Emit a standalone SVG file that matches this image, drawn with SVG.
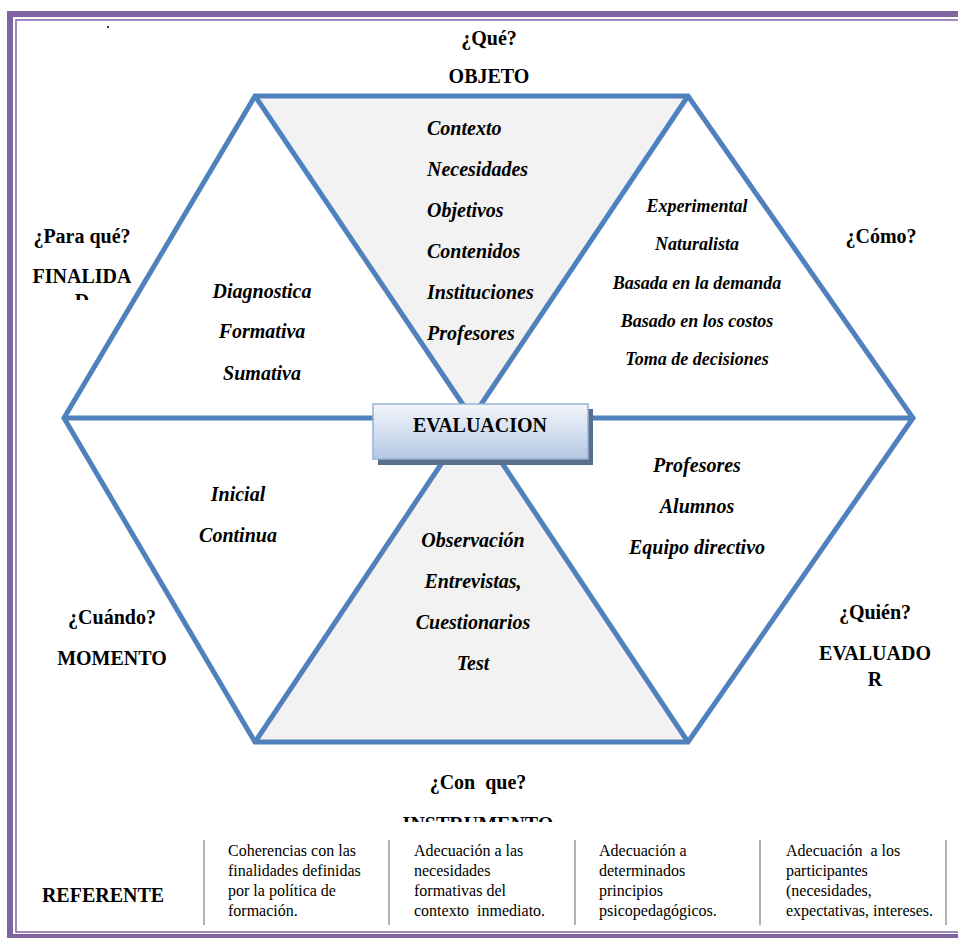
<svg xmlns="http://www.w3.org/2000/svg" width="958" height="938" viewBox="0 0 958 938">
  <defs>
    <style>
      .edge { fill: none; stroke: #4f81bd; stroke-width: 5; stroke-linejoin: miter; }
      .tri { fill: #f2f2f2; }
      .lbl { font-family: "Liberation Serif", "Times New Roman", serif; font-weight: bold; font-size: 20px; fill: #000; text-anchor: middle; }
      .item { font-family: "Liberation Serif", "Times New Roman", serif; font-weight: bold; font-style: italic; font-size: 20px; fill: #000; }
      .items { font-family: "Liberation Serif", "Times New Roman", serif; font-weight: bold; font-style: italic; font-size: 18px; fill: #000; text-anchor: middle; }
      .ref { font-family: "Liberation Serif", "Times New Roman", serif; font-size: 16px; fill: #000; }
      .sep { stroke: #999; stroke-width: 1.5; }
      .frame-thick { fill: #8064a2; }
      .frame-thin { fill: none; stroke: #8064a2; stroke-width: 1.5; }
    </style>
    <linearGradient id="boxGrad" x1="0" y1="0" x2="0" y2="1">
      <stop offset="0" stop-color="#f4f6fb"/>
      <stop offset="1" stop-color="#b4c8e4"/>
    </linearGradient>
    <clipPath id="clipFinal"><rect x="0" y="250" width="200" height="50"/></clipPath>
    <clipPath id="clipInstr"><rect x="350" y="800" width="260" height="22"/></clipPath>
  </defs>

  <rect width="958" height="938" fill="#fff"/>

  <!-- page frame -->
  <g id="frame">
    <rect class="frame-thick" x="7" y="11" width="951" height="6"/>
    <rect class="frame-thick" x="7" y="11" width="6" height="927"/>
    <rect class="frame-thick" x="7" y="934" width="951" height="4"/>
    <path class="frame-thin" d="M958 20 H16 V932 H958"/>
  </g>

  <!-- shaded triangles -->
  <g id="fills">
    <polygon class="tri" points="255,96 688,96 472,418"/>
    <polygon class="tri" points="472,418 688,742 255,742"/>
  </g>

  <!-- hexagon edges and spokes -->
  <g id="connectors">
    <polygon class="edge" points="255,96 688,96 913,418 688,742 255,742 64,418"/>
    <line class="edge" x1="255" y1="96" x2="472" y2="418"/>
    <line class="edge" x1="688" y1="96" x2="472" y2="418"/>
    <line class="edge" x1="472" y1="418" x2="255" y2="742"/>
    <line class="edge" x1="472" y1="418" x2="688" y2="742"/>
    <line class="edge" x1="64" y1="418" x2="913" y2="418"/>
  </g>

  <!-- centre box -->
  <g id="evaluacion">
    <rect x="378" y="409" width="215" height="56" fill="#5a6f8c"/>
    <rect x="373" y="404" width="215" height="55" fill="url(#boxGrad)" stroke="#95b3d7" stroke-width="1.5"/>
    <text class="lbl" x="480" y="432">EVALUACION</text>
  </g>

  <g id="dot"><circle cx="108" cy="27" r="1" fill="#000"/></g>

  <!-- top: objeto -->
  <g id="objeto">
    <text class="lbl" x="489" y="45">¿Qué?</text>
    <text class="lbl" x="489" y="83">OBJETO</text>
    <text class="item" x="427" y="135">Contexto</text>
    <text class="item" x="427" y="176">Necesidades</text>
    <text class="item" x="427" y="217">Objetivos</text>
    <text class="item" x="427" y="258">Contenidos</text>
    <text class="item" x="427" y="299">Instituciones</text>
    <text class="item" x="427" y="340">Profesores</text>
  </g>

  <!-- upper left: finalidad -->
  <g id="finalidad">
    <text class="lbl" x="82" y="243">¿Para qué?</text>
    <text class="lbl" x="82" y="283">FINALIDA</text>
    <text class="lbl" x="82" y="308" clip-path="url(#clipFinal)">D</text>
    <text class="item" x="262" y="298" text-anchor="middle">Diagnostica</text>
    <text class="item" x="262" y="338" text-anchor="middle">Formativa</text>
    <text class="item" x="262" y="380" text-anchor="middle">Sumativa</text>
  </g>

  <!-- upper right: como -->
  <g id="como">
    <text class="lbl" x="881" y="243">¿Cómo?</text>
    <text class="items" x="697" y="212">Experimental</text>
    <text class="items" x="697" y="250">Naturalista</text>
    <text class="items" x="697" y="289">Basada en la demanda</text>
    <text class="items" x="697" y="327">Basado en los costos</text>
    <text class="items" x="697" y="365">Toma de decisiones</text>
  </g>

  <!-- lower left: momento -->
  <g id="momento">
    <text class="lbl" x="112" y="624">¿Cuándo?</text>
    <text class="lbl" x="112" y="665">MOMENTO</text>
    <text class="item" x="238" y="501" text-anchor="middle">Inicial</text>
    <text class="item" x="238" y="542" text-anchor="middle">Continua</text>
  </g>

  <!-- bottom: instrumento -->
  <g id="instrumento">
    <text class="item" x="473" y="547" text-anchor="middle">Observación</text>
    <text class="item" x="473" y="588" text-anchor="middle">Entrevistas,</text>
    <text class="item" x="473" y="629" text-anchor="middle">Cuestionarios</text>
    <text class="item" x="473" y="670" text-anchor="middle">Test</text>
    <text class="lbl" x="478" y="789" xml:space="preserve">¿Con  que?</text>
    <text class="lbl" x="478" y="831" clip-path="url(#clipInstr)">INSTRUMENTO</text>
  </g>

  <!-- lower right: evaluador -->
  <g id="evaluador">
    <text class="item" x="697" y="472" text-anchor="middle">Profesores</text>
    <text class="item" x="697" y="513" text-anchor="middle">Alumnos</text>
    <text class="item" x="697" y="554" text-anchor="middle">Equipo directivo</text>
    <text class="lbl" x="875" y="619">¿Quién?</text>
    <text class="lbl" x="875" y="660">EVALUADO</text>
    <text class="lbl" x="875" y="686">R</text>
  </g>

  <!-- referente table -->
  <g id="referente">
    <text class="lbl" x="103" y="902">REFERENTE</text>
    <line class="sep" x1="204" y1="840" x2="204" y2="925"/>
    <line class="sep" x1="389" y1="840" x2="389" y2="925"/>
    <line class="sep" x1="575" y1="840" x2="575" y2="925"/>
    <line class="sep" x1="760" y1="840" x2="760" y2="925"/>
    <line class="sep" x1="946" y1="840" x2="946" y2="925"/>
    <text class="ref" x="228" y="856">Coherencias con las</text>
    <text class="ref" x="228" y="876">finalidades definidas</text>
    <text class="ref" x="228" y="896">por la política de</text>
    <text class="ref" x="228" y="916">formación.</text>
    <text class="ref" x="414" y="856">Adecuación a las</text>
    <text class="ref" x="414" y="876">necesidades</text>
    <text class="ref" x="414" y="896">formativas del</text>
    <text class="ref" x="414" y="916" xml:space="preserve">contexto  inmediato.</text>
    <text class="ref" x="599" y="856">Adecuación a</text>
    <text class="ref" x="599" y="876">determinados</text>
    <text class="ref" x="599" y="896">principios</text>
    <text class="ref" x="599" y="916">psicopedagógicos.</text>
    <text class="ref" x="786" y="856" xml:space="preserve">Adecuación  a los</text>
    <text class="ref" x="786" y="876">participantes</text>
    <text class="ref" x="786" y="896">(necesidades,</text>
    <text class="ref" x="786" y="916">expectativas, intereses.</text>
  </g>
</svg>
